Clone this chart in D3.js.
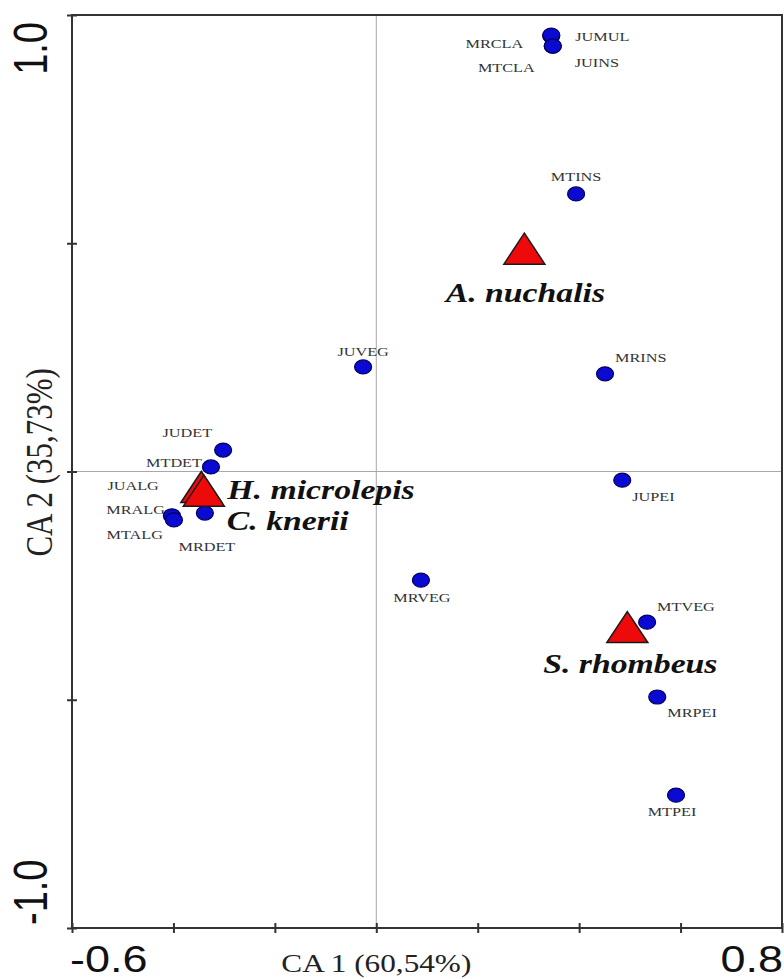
<!DOCTYPE html>
<html>
<head>
<meta charset="utf-8">
<script src="https://cdn.jsdelivr.net/npm/d3@7"></script>
<style>
  body { margin: 0; background: #fff; }
  svg { display: block; }
</style>
</head>
<body>
<div id="chart"></div>
<script>
// ---- data: CA scores ----
const items = ["MRCLA", "JUMUL", "MTCLA", "JUINS", "MTINS", "JUVEG", "MRINS", "JUDET", "MTDET",
               "JUALG", "MRALG", "MTALG", "MRDET", "JUPEI", "MRVEG", "MTVEG", "MRPEI", "MTPEI"]
const item_x = [0.345, 0.345, 0.348, 0.348, 0.394, -0.026, 0.451, -0.302, -0.326,
                -0.346, -0.403, -0.399, -0.338, 0.485, 0.088, 0.534, 0.554, 0.591]
const item_y = [0.954, 0.956, 0.932, 0.932, 0.608, 0.229, 0.214, 0.047, 0.010,
                -0.038, -0.097, -0.106, -0.091, -0.019, -0.238, -0.330, -0.494, -0.709]

const species = ["A. nuchalis", "H. microlepis", "C. knerii", "S. rhombeus"]
const species_x = [0.292, -0.345, -0.340, 0.495]
const species_y = [0.487, -0.035, -0.043, -0.342]

const x_ticks = [-0.6, -0.4, -0.2, 0, 0.2, 0.4, 0.6, 0.8]
const y_ticks = [-1, -0.5, 0, 0.5, 1]
const x_title = "CA 1 (60,54%)"
const y_title = "CA 2 (35,73%)"

// ---- layout ----
const width = 784, height = 979
const margin = { top: 15, right: 2, bottom: 51, left: 72 }
const stretch = 1.25   // the original figure is squeezed wider than tall

// label placement relative to its mark: [dx, dy, anchor]
const item_label = {
    MRCLA: [-28, 12, "end"], JUMUL: [24, 6, "start"], MTCLA: [-18, 26, "end"], JUINS: [22, 21, "start"],
    MTINS: [0, -13, "middle"], JUVEG: [0, -11, "middle"], MRINS: [10, -12, "start"],
    JUDET: [-11, -13, "end"], MTDET: [-9, 0, "end"], JUALG: [-42, 1, "end"], MRALG: [-7, -2, "end"],
    MTALG: [-11, 19, "end"], MRDET: [2, 38, "middle"], JUPEI: [10, 21, "start"], MRVEG: [1, 22, "middle"],
    MTVEG: [10, -11, "start"], MRPEI: [10, 20, "start"], MTPEI: [-4, 21, "middle"]
}
const species_label = {
    "A. nuchalis": [1, 53, "middle"], "H. microlepis": [26, 12, "start"],
    "C. knerii": [23, 39, "start"], "S. rhombeus": [3, 45, "middle"]
}

const svg = d3.select("#chart").append("svg")
    .attr("width", width)
    .attr("height", height)

const xScale = d3.scaleLinear().domain([-0.6, 0.8]).range([margin.left, width - margin.right])
const yScale = d3.scaleLinear().domain([-1, 1]).range([height - margin.bottom, margin.top])

function put_text(sel, x, y) {
    return sel.attr("transform", "translate(" + x + "," + y + ") scale(" + stretch + ",1)")
}

// zero lines
svg.append("line")
    .attr("x1", xScale(0)).attr("x2", xScale(0))
    .attr("y1", yScale(1)).attr("y2", yScale(-1))
    .attr("stroke", "#a8a8a8").attr("stroke-width", 1)
svg.append("line")
    .attr("x1", xScale(-0.6)).attr("x2", xScale(0.8))
    .attr("y1", yScale(0)).attr("y2", yScale(0))
    .attr("stroke", "#a8a8a8").attr("stroke-width", 1)

// frame
svg.append("rect")
    .attr("x", xScale(-0.6)).attr("y", yScale(1))
    .attr("width", xScale(0.8) - xScale(-0.6))
    .attr("height", yScale(-1) - yScale(1))
    .attr("fill", "none").attr("stroke", "#333").attr("stroke-width", 2)

// axes (ticks cross the spine)
const gx = svg.append("g")
    .attr("transform", "translate(0," + yScale(-1) + ")")
    .call(d3.axisBottom(xScale).tickValues(x_ticks).tickFormat("").tickSizeOuter(0))
gx.select(".domain").remove()
gx.selectAll(".tick line").attr("y1", -5).attr("y2", 5).attr("stroke", "#333").attr("stroke-width", 2)

const gy = svg.append("g")
    .attr("transform", "translate(" + xScale(-0.6) + ",0)")
    .call(d3.axisLeft(yScale).tickValues(y_ticks).tickFormat("").tickSizeOuter(0))
gy.select(".domain").remove()
gy.selectAll(".tick line").attr("x1", -5).attr("x2", 5).attr("stroke", "#333").attr("stroke-width", 2)

// end tick labels only, like the original
const sans = "'Liberation Sans', Arial, sans-serif"
const serif = "'Liberation Serif', 'Times New Roman', serif"

put_text(svg.append("text"), xScale(x_ticks[0]) - 2, height - 7)
    .attr("text-anchor", "start").attr("font-family", sans).attr("font-size", 36).attr("fill", "#111")
    .text(d3.format(".1f")(x_ticks[0]).replace("−", "-"))
put_text(svg.append("text"), xScale(x_ticks[x_ticks.length - 1]) + 1, height - 7)
    .attr("text-anchor", "end").attr("font-family", sans).attr("font-size", 36).attr("fill", "#111")
    .text(d3.format(".1f")(x_ticks[x_ticks.length - 1]))

svg.append("text")
    .attr("transform", "translate(47," + (yScale(1) + 7) + ") scale(" + stretch + ",1) rotate(-90)")
    .attr("text-anchor", "end").attr("font-family", sans).attr("font-size", 38).attr("fill", "#111")
    .text(d3.format(".1f")(y_ticks[y_ticks.length - 1]))
svg.append("text")
    .attr("transform", "translate(47," + (yScale(-1) - 3) + ") scale(" + stretch + ",1) rotate(-90)")
    .attr("text-anchor", "start").attr("font-family", sans).attr("font-size", 38).attr("fill", "#111")
    .text(d3.format(".1f")(y_ticks[0]).replace("−", "-"))

// axis titles
put_text(svg.append("text"), xScale(0), height - 7)
    .attr("text-anchor", "middle").attr("font-family", serif).attr("font-size", 25).attr("fill", "#222")
    .text(x_title)
svg.append("text")
    .attr("transform", "translate(52," + yScale(0.02) + ") scale(" + stretch + ",1) rotate(-90)")
    .attr("text-anchor", "middle").attr("font-family", serif).attr("font-size", 31).attr("fill", "#222")
    .text(y_title)

// food item points
const item_data = items.map((name, i) => ({ name: name, x: item_x[i], y: item_y[i] }))

svg.append("g").selectAll("ellipse")
    .data(item_data)
    .join("ellipse")
    .attr("cx", d => xScale(d.x))
    .attr("cy", d => yScale(d.y))
    .attr("rx", 8.5).attr("ry", 7)
    .attr("fill", "#0a0ad2")
    .attr("stroke", "#00005a").attr("stroke-width", 1.2)

svg.append("g").selectAll("text")
    .data(item_data)
    .join("text")
    .attr("transform", d => "translate(" + (xScale(d.x) + item_label[d.name][0]) + "," +
        (yScale(d.y) + item_label[d.name][1]) + ") scale(" + stretch + ",1)")
    .attr("text-anchor", d => item_label[d.name][2])
    .attr("font-family", serif).attr("font-size", 13).attr("fill", "#333")
    .text(d => d.name)

// species triangles
const species_data = species.map((name, i) => ({ name: name, x: species_x[i], y: species_y[i] }))
const tri = "M0,-16L20.5,15L-20.5,15Z"

svg.append("g").selectAll("path")
    .data(species_data)
    .join("path")
    .attr("transform", d => "translate(" + xScale(d.x) + "," + yScale(d.y) + ")")
    .attr("d", tri)
    .attr("fill", "#ee0a0a")
    .attr("stroke", "#1a1a1a").attr("stroke-width", 1.5)

svg.append("g").selectAll("text")
    .data(species_data)
    .join("text")
    .attr("transform", d => "translate(" + (xScale(d.x) + species_label[d.name][0]) + "," +
        (yScale(d.y) + species_label[d.name][1]) + ") scale(" + stretch + ",1)")
    .attr("text-anchor", d => species_label[d.name][2])
    .attr("font-family", serif).attr("font-size", 27).attr("font-weight", "bold").attr("font-style", "italic")
    .attr("fill", "#111")
    .text(d => d.name)
</script>
</body>
</html>
